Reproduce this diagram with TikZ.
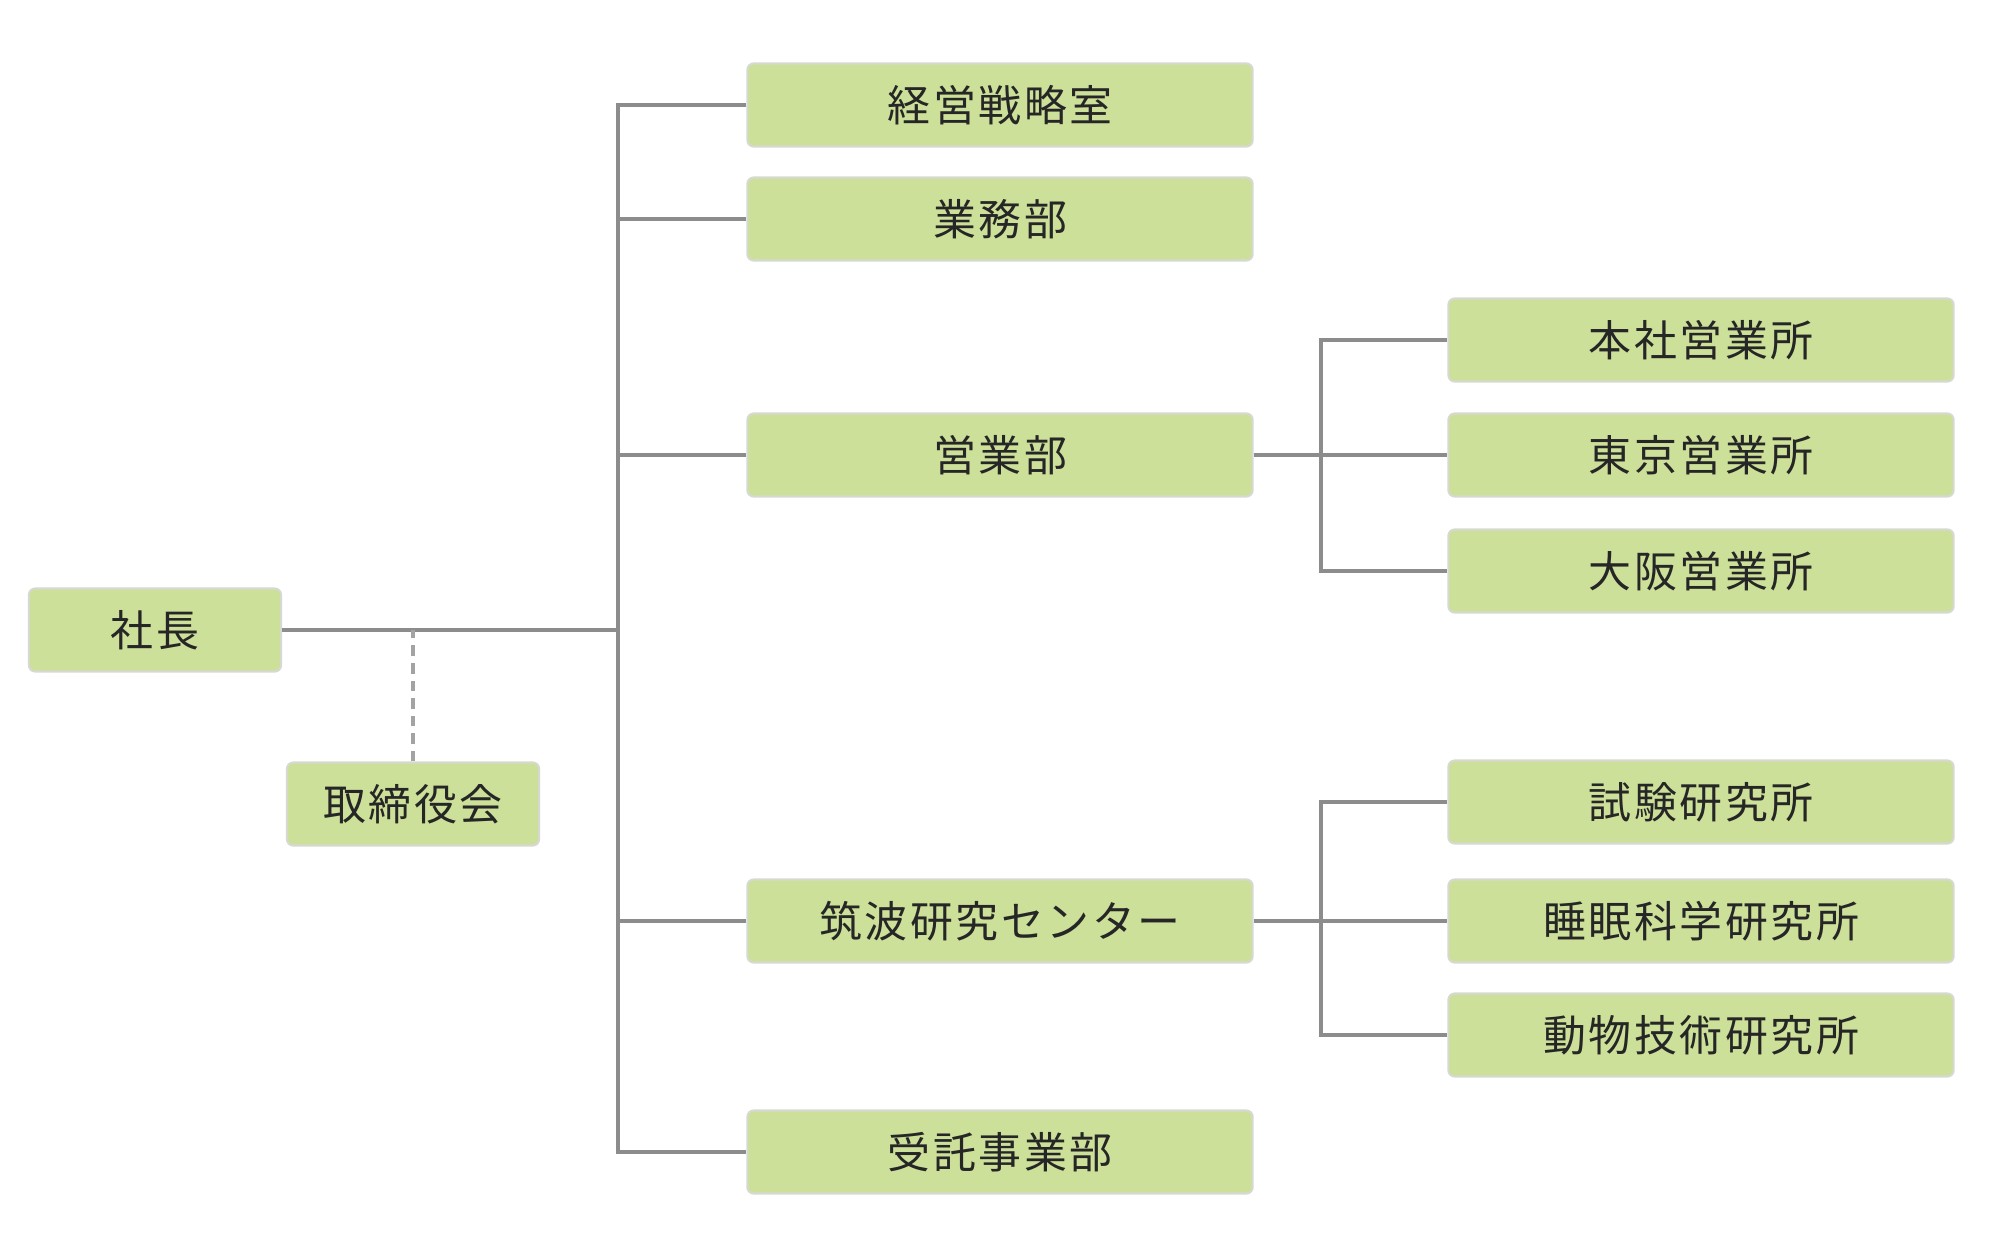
\documentclass[tikz,border=0pt]{standalone}
\usepackage{fontspec}
\newfontfamily\jpfont[LetterSpace=6]{Noto Sans CJK JP}
\definecolor{boxgreen}{HTML}{CCE099}
\definecolor{boxedge}{HTML}{D6D9CF}
\definecolor{linegray}{HTML}{8C8C8C}
\definecolor{textdark}{HTML}{262626}

\begin{document}
\begin{tikzpicture}[x=0.01cm, y=-0.01cm,
    unit/.style={draw=boxedge, line width=0.6pt, fill=boxgreen, rounded corners=1.8pt,
      minimum height=0.83cm, inner sep=0pt, text=textdark,
      font=\jpfont\fontsize{12.2pt}{15pt}\selectfont},
    small/.style={unit, minimum width=2.52cm},
    wide/.style={unit, minimum width=5.05cm},
    conn/.style={draw=linegray, line width=1.2pt},
    aux/.style={draw=linegray!80, line width=0.9pt, densely dashed}]
    \useasboundingbox (0,0) rectangle (2000,1233);

    % President and board
    \node[small] (shacho) at (155,630) {社長};
    \node[small] (torishimari) at (413,804) {取締役会};

    % Departments
    \node[wide] (keiei) at (1000,105) {経営戦略室};
    \node[wide] (gyomu) at (1000,219) {業務部};
    \node[wide] (eigyo) at (1000,455) {営業部};
    \node[wide] (tsukuba) at (1000,921) {筑波研究センター};
    \node[wide] (jutaku) at (1000,1152) {受託事業部};

    % Offices and labs
    \node[wide] (honsha) at (1701,340) {本社営業所};
    \node[wide] (tokyo) at (1701,455) {東京営業所};
    \node[wide] (osaka) at (1701,571) {大阪営業所};
    \node[wide] (shiken) at (1701,802) {試験研究所};
    \node[wide] (suimin) at (1701,921) {睡眠科学研究所};
    \node[wide] (dobutsu) at (1701,1035) {動物技術研究所};

    % Main trunk
    \coordinate (bus) at (618,630);
    \draw[conn] (shacho.east) -- (bus);
    \draw[conn] (keiei.west) -| (bus) |- (jutaku.west);
    \draw[conn] (gyomu.west) -- (gyomu.west -| bus);
    \draw[conn] (eigyo.west) -- (eigyo.west -| bus);
    \draw[conn] (tsukuba.west) -- (tsukuba.west -| bus);
    \draw[aux] (torishimari.north) -- (torishimari.north |- shacho.east);

    % Sales branch
    \coordinate (ebus) at (1321,455);
    \draw[conn] (eigyo.east) -- (tokyo.west);
    \draw[conn] (honsha.west) -| (ebus) |- (osaka.west);

    % Research branch
    \coordinate (rbus) at (1321,921);
    \draw[conn] (tsukuba.east) -- (suimin.west);
    \draw[conn] (shiken.west) -| (rbus) |- (dobutsu.west);
  \end{tikzpicture}
\end{document}
